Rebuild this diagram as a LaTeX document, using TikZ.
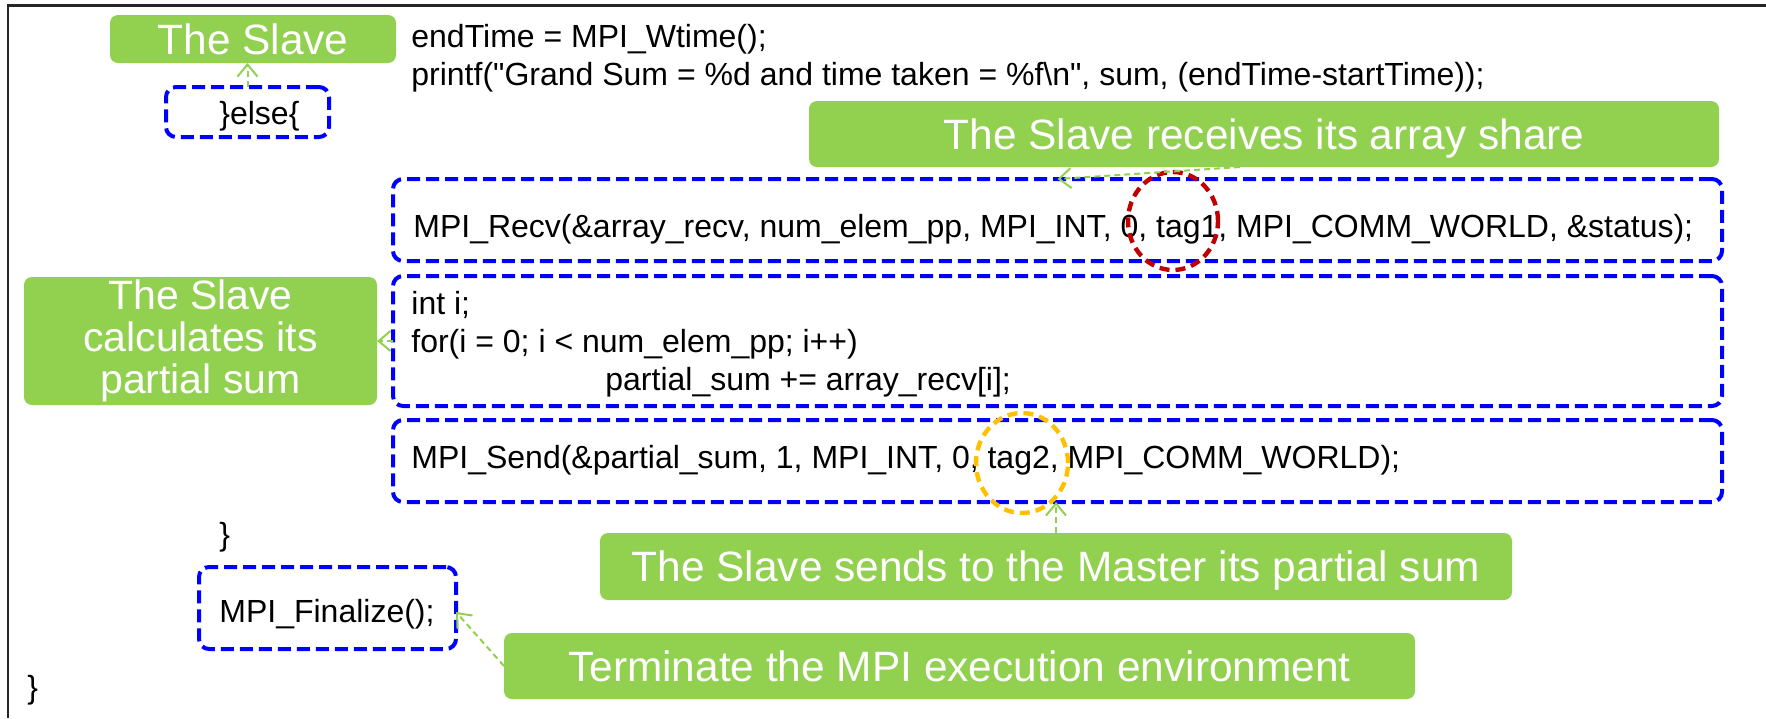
\documentclass[tikz,border=0pt]{standalone}
\usepackage{fontspec}
\setmainfont{Liberation Sans}
\usetikzlibrary{arrows.meta,calc,shapes.geometric}
\definecolor{lbl}{HTML}{92D050}
\definecolor{dashblue}{HTML}{0000FF}
\definecolor{tagred}{HTML}{C00000}
\definecolor{tagorange}{HTML}{FFC000}
\tikzset{
  codebox/.style={draw=dashblue, line width=2pt, dash pattern=on 6.5pt off 3pt,
    rounded corners=5pt, inner sep=0pt, outer sep=0pt},
  lblbox/.style={fill=lbl, rounded corners=4pt, text=white, inner sep=0pt, outer sep=0pt,
    font=\fontsize{21.2}{21}\selectfont, text height=15.2pt, text depth=0pt},
  code/.style={anchor=base west, inner sep=0pt, font=\fontsize{16}{19}\selectfont},
  garrow/.style={draw=lbl, line width=1pt, dash pattern=on 3pt off 2pt,
    -{Straight Barb[length=6pt,width=10pt,line width=1pt]}},
  tagring/.style={ellipse, line width=2.2pt, dash pattern=on 5pt off 3pt, inner sep=0pt, outer sep=0pt},
}
\begin{document}
\begin{tikzpicture}[x=0.5pt,y=-0.5pt]
\useasboundingbox (0,0) rectangle (1766,718);
% frame
\draw[line width=1.25pt, draw=black!85] (8,718) -- (8,5.5) -- (1766,5.5);

% dashed code blocks
\node[codebox, minimum width=81.5pt, minimum height=25pt] (elsebox) at (247.5,112) {};
\node[codebox, minimum width=664.5pt, minimum height=41pt] (recv) at (1057.5,220) {};
\node[codebox, minimum width=664.5pt, minimum height=65pt] (loop) at (1057.5,341) {};
\node[codebox, minimum width=664.5pt, minimum height=41pt] (send) at (1057.5,461) {};
\node[codebox, minimum width=128.5pt, minimum height=41pt] (final) at (327.5,608) {};

% code text
\node[code] (l1) at (411,47) {endTime = MPI\_Wtime();};
\node[code] (l2) at (411,85) {printf(\textquotedbl Grand Sum = \%d and time taken = \%f\textbackslash n\textquotedbl, sum, (endTime-startTime));};
\node[code] (l3) at (219,124) {\}else\{};
\node[code] (l4) at (413,237) {MPI\_Recv(\&array\_recv, num\_elem\_pp, MPI\_INT, 0, tag1, MPI\_COMM\_WORLD, \&status);};
\node[code] (l5) at (411,314) {int i;};
\node[code] (l6) at (411,352) {for(i = 0; i < num\_elem\_pp; i++)};
\node[code] (l7) at (605,390) {partial\_sum += array\_recv[i];};
\node[code] (l8) at (411,468) {MPI\_Send(\&partial\_sum, 1, MPI\_INT, 0, tag2, MPI\_COMM\_WORLD);};
\node[code] (l9) at (219,545) {\}};
\node[code] (l10) at (219,622) {MPI\_Finalize();};
\node[code] (l11) at (27,698) {\}};

% tag markers
\node[tagring, draw=tagred, minimum width=45pt, minimum height=49pt] (tagone) at (1173,221) {};
\node[tagring, draw=tagorange, minimum width=46pt, minimum height=50pt] (tagtwo) at (1022,463) {};

% green callouts
\node[lblbox, minimum width=143pt, minimum height=24pt] (slave) at (253,39) {The Slave};
\node[lblbox, minimum width=455pt, minimum height=33pt] (receives) at (1264,134) {The Slave receives its array share};
\node[lblbox, minimum width=176.5pt, minimum height=64pt, align=center, text height=, text depth=,
  font=\fontsize{20.5}{21}\selectfont] (calc) at (200.5,341) {The Slave\\calculates its\\partial sum};
\node[lblbox, minimum width=456pt, minimum height=33.5pt] (sends) at (1056,566.5) {The Slave sends to the Master its partial sum};
\node[lblbox, minimum width=455.5pt, minimum height=33pt] (term) at (959.5,666) {Terminate the MPI execution environment};

% callout connectors
\draw[garrow] (elsebox.north) -- (elsebox.north |- slave.south);
\draw[garrow] ($(receives.south)+(-12pt,0)$) -- (recv.north);
\draw[garrow] (loop.west) -- (calc.east);
\draw[garrow] (sends.north) -- (sends.north |- send.south);
\draw[garrow] (term.west) -- ([yshift=-2pt]final.east);
\end{tikzpicture}
\end{document}
